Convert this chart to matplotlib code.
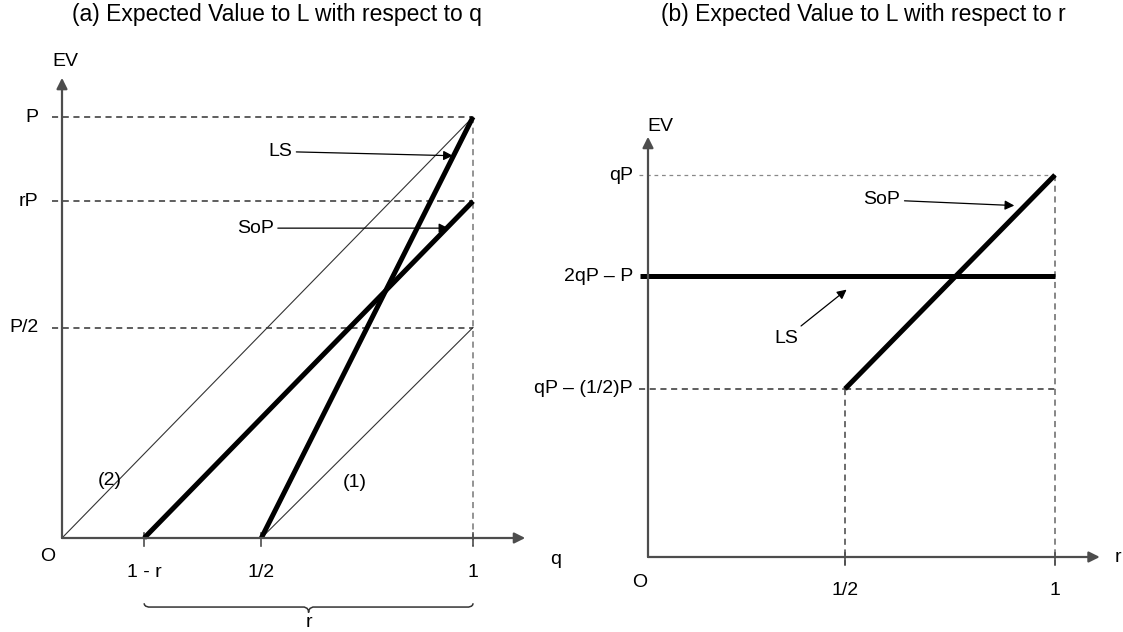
import matplotlib.pyplot as plt
from matplotlib.path import Path
from matplotlib.patches import PathPatch

plt.rcParams['font.family'] = ['Liberation Sans', 'DejaVu Sans']

# ---- panel (a) data: q on x, EV in units of P ----
r_val = 0.8
q_tick_pos = [1 - r_val, 0.485, 1.0]
q_tick_labels = ["1 - r", "1/2", "1"]
ev_a_levels = [1.0, r_val, 0.5]
ev_a_labels = ["P", "rP", "P/2"]

# ---- panel (b) data: r on x, EV in units of qP ----
r_tick_pos = [0.484, 1.0]
r_tick_labels = ["1/2", "1"]
ev_b_levels = [1.0, 0.735, 0.44]
ev_b_labels = ["qP", "2qP \u2013 P", "qP \u2013 (1/2)P"]

FS = 14
TITLE_FS = 16.5
W, H = 1123, 632

fig = plt.figure(figsize=(11.23, 6.32), dpi=100)


def px_axes(x0, y0, x1, y1):
    # axes whose (0,0)-(1,1) box sits on the given pixel corners
    ax = fig.add_axes([x0 / W, 1 - y0 / H, (x1 - x0) / W, (y0 - y1) / H])
    ax.set_xlim(0, 1)
    ax.set_ylim(0, 1)
    ax.axis('off')
    return ax


def axis_arrows(ax, xtip, ytip):
    kw = dict(arrowstyle='-|>', color='#4d4d4d', lw=1.6, mutation_scale=16,
              shrinkA=0, shrinkB=0)
    ax.annotate("", xy=(xtip, 0), xytext=(0, 0), arrowprops=kw, annotation_clip=False)
    ax.annotate("", xy=(0, ytip), xytext=(0, 0), arrowprops=kw, annotation_clip=False)


def pointer(ax, text, xy, xytext, ha='right'):
    ax.annotate(text, xy=xy, xytext=xytext, fontsize=FS, ha=ha, va='center',
                arrowprops=dict(arrowstyle='-|>', color='black', lw=0.9,
                                mutation_scale=14, shrinkA=1, shrinkB=0),
                annotation_clip=False)


# ================= panel (a) =================
ax = px_axes(62, 538, 473, 117)
axis_arrows(ax, 1.127, 1.093)

for lv, lab in zip(ev_a_levels, ev_a_labels):
    ax.plot([-0.025, 1.0], [lv, lv], ls=(0, (4, 3)), color='#333333', lw=1.1, clip_on=False)
    ax.text(-0.058, lv, lab, fontsize=FS, ha='right', va='center')
ax.plot([1.0, 1.0], [1.0, -0.018], ls=(0, (4, 3)), color='#777777', lw=1.1, clip_on=False)

for xp, lab in zip(q_tick_pos, q_tick_labels):
    ax.plot([xp, xp], [0.012, -0.018], color='#4d4d4d', lw=1.2, clip_on=False)
    ax.text(xp, -0.082, lab, fontsize=FS, ha='center', va='center')

ax.text(-0.034, -0.045, "O", fontsize=FS, ha='center', va='center')
ax.text(1.2, -0.05, "q", fontsize=FS, ha='center', va='center')
ax.text(0.008, 1.131, "EV", fontsize=FS, ha='center', va='center')

# thin reference lines (1) and (2)
ax.plot([0, 1.0], [0, 1.0], color='#333333', lw=0.8, clip_on=False)
ax.plot([q_tick_pos[1], 1.0], [0, 0.5], color='#333333', lw=0.8, clip_on=False)
ax.text(0.117, 0.137, "(2)", fontsize=FS, ha='center', va='center')
ax.text(0.713, 0.133, "(1)", fontsize=FS, ha='center', va='center')

# thick LS and SoP lines
ax.plot([q_tick_pos[1], 1.0], [0, 1.0], color='black', lw=3.6, solid_capstyle='butt', clip_on=False)
ax.plot([q_tick_pos[0], 1.0], [0, r_val], color='black', lw=3.6, solid_capstyle='butt', clip_on=False)

pointer(ax, "LS", xy=(0.951, 0.908), xytext=(0.56, 0.918))
pointer(ax, "SoP", xy=(0.94, 0.736), xytext=(0.515, 0.736))

# brace under the axis
bx0, bx1 = q_tick_pos[0], 1.0
bm = (bx0 + bx1) / 2
yt, yl, yd = -0.155, -0.164, -0.177
dx = 0.012
verts = [(bx0, yt), (bx0, yl), (bx0 + dx, yl), (bx0 + dx, yl),
         (bm - dx, yl), (bm - dx, yl), (bm, yl), (bm, yd),
         (bm, yl), (bm + dx, yl), (bm + dx, yl),
         (bx1 - dx, yl), (bx1 - dx, yl), (bx1, yl), (bx1, yt)]
codes = [Path.MOVETO, Path.CURVE4, Path.CURVE4, Path.CURVE4,
         Path.LINETO, Path.CURVE4, Path.CURVE4, Path.CURVE4,
         Path.CURVE4, Path.CURVE4, Path.CURVE4,
         Path.LINETO, Path.CURVE4, Path.CURVE4, Path.CURVE4]
ax.add_patch(PathPatch(Path(verts, codes), fill=False, color='#333333', lw=1.1, clip_on=False))
ax.text(bm, -0.2, "r", fontsize=FS, ha='center', va='center')

# ================= panel (b) =================
bx = px_axes(648, 557, 1055, 175)
axis_arrows(bx, 1.11, 1.1)

bx.plot([-0.022, 1.0], [ev_b_levels[0]] * 2, ls=(0, (3, 3)), color='#888888', lw=0.9, clip_on=False)
bx.plot([-0.022, r_tick_pos[0]], [ev_b_levels[2]] * 2, ls=(0, (4, 3)), color='#333333', lw=1.1, clip_on=False)
bx.plot([r_tick_pos[0], 1.0], [ev_b_levels[2]] * 2, ls=(0, (4, 3)), color='#333333', lw=1.1, clip_on=False)
bx.plot([1.0, 1.0], [ev_b_levels[0], -0.02], ls=(0, (4, 3)), color='#666666', lw=1.1, clip_on=False)
bx.plot([r_tick_pos[0], r_tick_pos[0]], [ev_b_levels[2], -0.02], ls=(0, (4, 3)), color='#444444', lw=1.1, clip_on=False)
for lv, lab in zip(ev_b_levels, ev_b_labels):
    bx.text(-0.037, lv, lab, fontsize=FS, ha='right', va='center')

for xp, lab in zip(r_tick_pos, r_tick_labels):
    bx.plot([xp, xp], [0.01, -0.022], color='#4d4d4d', lw=1.2, clip_on=False)
    bx.text(xp, -0.088, lab, fontsize=FS, ha='center', va='center')

bx.text(-0.02, -0.066, "O", fontsize=FS, ha='center', va='center')
bx.text(1.155, 0.0, "r", fontsize=FS, ha='center', va='center')
bx.text(0.03, 1.128, "EV", fontsize=FS, ha='center', va='center')

# LS horizontal and SoP rising line
bx.plot([-0.02, 1.0], [ev_b_levels[1]] * 2, color='black', lw=3.6, solid_capstyle='butt', clip_on=False)
bx.plot([r_tick_pos[0], 1.0], [ev_b_levels[2], ev_b_levels[0]], color='black', lw=3.6, solid_capstyle='butt', clip_on=False)

pointer(bx, "SoP", xy=(0.9, 0.92), xytext=(0.62, 0.935))
pointer(bx, "LS", xy=(0.488, 0.7), xytext=(0.368, 0.573))

fig.text(277 / W, 1 - 14 / H, "(a) Expected Value to L with respect to q",
         fontsize=TITLE_FS, ha='center', va='center')
fig.text(863 / W, 1 - 14 / H, "(b) Expected Value to L with respect to r",
         fontsize=TITLE_FS, ha='center', va='center')

fig.savefig("out.png", dpi=100)
